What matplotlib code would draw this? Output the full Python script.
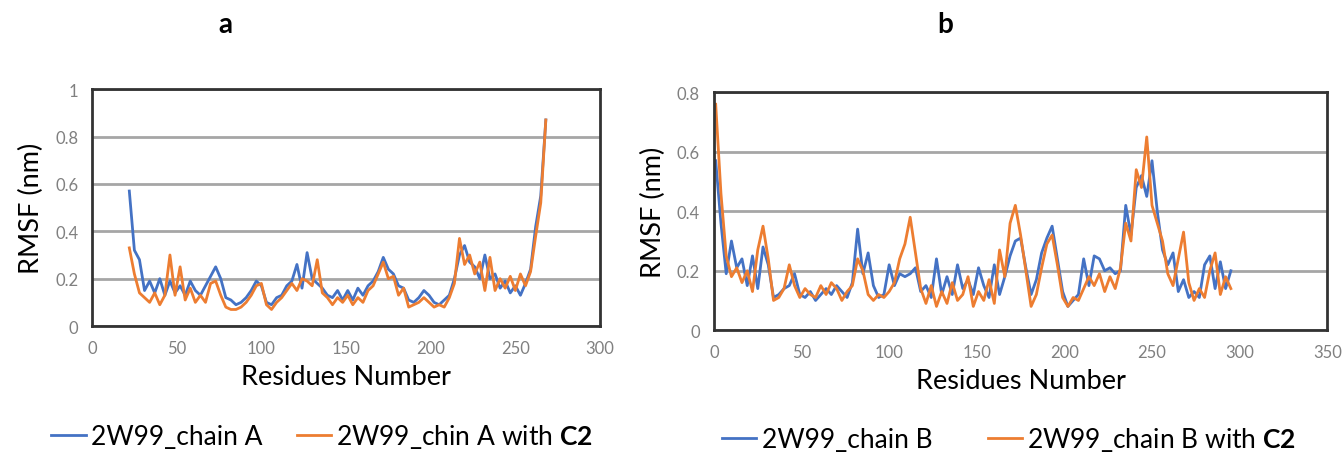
import numpy as np
import matplotlib
matplotlib.use("Agg")
import matplotlib.pyplot as plt

plt.rcParams['font.family'] = ['Lato', 'DejaVu Sans']
plt.rcParams['mathtext.fontset'] = 'custom'
plt.rcParams['mathtext.rm'] = 'Lato'
plt.rcParams['mathtext.bf'] = 'Lato:bold'

# panel a: chain A, residues 22..268 every 3
res_a = np.arange(22, 269, 3)
rmsf_a = [0.57, 0.32, 0.28, 0.15, 0.19, 0.14, 0.20, 0.13, 0.19, 0.14,
          0.17, 0.13, 0.19, 0.15, 0.13, 0.17, 0.21, 0.25, 0.20, 0.12,
          0.11, 0.09, 0.10, 0.12, 0.15, 0.19, 0.17, 0.10, 0.09, 0.12,
          0.13, 0.17, 0.19, 0.26, 0.16, 0.31, 0.20, 0.18, 0.16, 0.13,
          0.12, 0.15, 0.11, 0.15, 0.11, 0.16, 0.13, 0.17, 0.19, 0.23,
          0.29, 0.24, 0.22, 0.17, 0.16, 0.11, 0.10, 0.12, 0.15, 0.13,
          0.10, 0.09, 0.11, 0.13, 0.20, 0.30, 0.34, 0.27, 0.25, 0.20,
          0.30, 0.20, 0.22, 0.16, 0.19, 0.14, 0.17, 0.13, 0.18, 0.24,
          0.42, 0.55, 0.87]
rmsf_a_c2 = [0.33, 0.22, 0.14, 0.12, 0.10, 0.14, 0.09, 0.13, 0.30, 0.13,
             0.25, 0.11, 0.16, 0.10, 0.13, 0.10, 0.18, 0.19, 0.13, 0.08,
             0.07, 0.07, 0.08, 0.10, 0.13, 0.17, 0.18, 0.09, 0.07, 0.10,
             0.12, 0.15, 0.18, 0.15, 0.20, 0.19, 0.17, 0.28, 0.14, 0.12,
             0.09, 0.12, 0.10, 0.13, 0.09, 0.12, 0.10, 0.15, 0.17, 0.22,
             0.27, 0.20, 0.21, 0.13, 0.16, 0.08, 0.09, 0.10, 0.12, 0.10,
             0.08, 0.09, 0.08, 0.12, 0.18, 0.37, 0.26, 0.30, 0.22, 0.27,
             0.15, 0.29, 0.15, 0.20, 0.16, 0.21, 0.15, 0.22, 0.17, 0.23,
             0.38, 0.52, 0.87]

# panel b: chain B, residues 1..295 every 3
res_b = np.arange(1, 296, 3)
rmsf_b = [0.57, 0.36, 0.19, 0.30, 0.21, 0.24, 0.15, 0.25, 0.14, 0.28,
          0.22, 0.11, 0.12, 0.14, 0.15, 0.19, 0.12, 0.11, 0.13, 0.10,
          0.12, 0.14, 0.12, 0.15, 0.13, 0.11, 0.16, 0.34, 0.19, 0.26,
          0.15, 0.11, 0.12, 0.22, 0.15, 0.19, 0.18, 0.19, 0.21, 0.13,
          0.15, 0.11, 0.24, 0.12, 0.18, 0.12, 0.22, 0.14, 0.17, 0.12,
          0.21, 0.15, 0.11, 0.22, 0.12, 0.18, 0.25, 0.30, 0.31, 0.21,
          0.12, 0.17, 0.26, 0.31, 0.35, 0.24, 0.13, 0.08, 0.10, 0.12,
          0.24, 0.15, 0.25, 0.24, 0.20, 0.21, 0.19, 0.20, 0.42, 0.32,
          0.48, 0.52, 0.45, 0.57, 0.40, 0.27, 0.22, 0.26, 0.13, 0.17,
          0.11, 0.13, 0.11, 0.22, 0.25, 0.14, 0.23, 0.14, 0.20]
rmsf_b_c2 = [0.76, 0.46, 0.25, 0.18, 0.21, 0.16, 0.20, 0.13, 0.27, 0.35,
             0.24, 0.10, 0.11, 0.14, 0.22, 0.15, 0.11, 0.14, 0.12, 0.11,
             0.15, 0.12, 0.16, 0.14, 0.10, 0.13, 0.15, 0.24, 0.20, 0.12,
             0.10, 0.12, 0.11, 0.13, 0.16, 0.24, 0.29, 0.38, 0.26, 0.14,
             0.09, 0.15, 0.08, 0.13, 0.09, 0.16, 0.10, 0.12, 0.18, 0.08,
             0.13, 0.10, 0.17, 0.09, 0.27, 0.18, 0.36, 0.42, 0.32, 0.20,
             0.08, 0.12, 0.21, 0.29, 0.32, 0.22, 0.11, 0.08, 0.11, 0.10,
             0.14, 0.18, 0.15, 0.19, 0.13, 0.18, 0.14, 0.21, 0.36, 0.30,
             0.54, 0.48, 0.65, 0.42, 0.36, 0.30, 0.19, 0.15, 0.24, 0.33,
             0.16, 0.10, 0.14, 0.11, 0.20, 0.26, 0.12, 0.18, 0.14]

labels_a = ["2W99_chain A", r"2W99_chin A with $\mathbf{C2}$"]
labels_b = ["2W99_chain B", r"2W99_chain B with $\mathbf{C2}$"]

BLUE = '#4472C4'
ORANGE = '#ED7D31'


def style_axes(ax, xmax, ymax):
    ax.set_xlim(0, xmax)
    ax.set_ylim(0, ymax)
    ax.set_xticks(np.arange(0, xmax + 1, 50))
    yt = np.round(np.arange(0, ymax + 0.001, 0.2), 1)
    ax.set_yticks(yt)
    ax.set_yticklabels(['0' if v == 0 else ('1' if v == 1 else f'{v:g}') for v in yt])
    ax.tick_params(length=0, labelsize=12, labelcolor='#808080', pad=10)
    ax.yaxis.grid(True, color='#a6a6a6', lw=2)
    ax.set_axisbelow(True)
    for s in ax.spines.values():
        s.set_color('#333333')
        s.set_linewidth(2)
    ax.set_xlabel('Residues Number', fontsize=19.5, labelpad=6)
    ax.set_ylabel('RMSF (nm)', fontsize=19.5, labelpad=8)


fig = plt.figure(figsize=(13.42, 4.6), dpi=100)

ax1 = fig.add_axes([0.0686, 0.289, 0.3785, 0.515])
l1, = ax1.plot(res_a, rmsf_a, color=BLUE, lw=2)
l2, = ax1.plot(res_a, rmsf_a_c2, color=ORANGE, lw=2)
style_axes(ax1, 300, 1.0)
fig.legend([l1, l2], labels_a, loc='center', bbox_to_anchor=(0.240, 0.05),
           ncol=2, frameon=False, fontsize=19, handlelength=1.3,
           handletextpad=0.2, columnspacing=1.3, borderpad=0)

ax2 = fig.add_axes([0.532, 0.280, 0.457, 0.517])
l3, = ax2.plot(res_b, rmsf_b, color=BLUE, lw=2)
l4, = ax2.plot(res_b, rmsf_b_c2, color=ORANGE, lw=2)
style_axes(ax2, 350, 0.8)
fig.legend([l3, l4], labels_b, loc='center', bbox_to_anchor=(0.752, 0.043),
           ncol=2, frameon=False, fontsize=19, handlelength=1.3,
           handletextpad=0.2, columnspacing=2.1, borderpad=0)

fig.text(0.168, 0.946, 'a', fontsize=20, fontweight='bold', ha='center', va='center')
fig.text(0.704, 0.946, 'b', fontsize=20, fontweight='bold', ha='center', va='center')

fig.savefig('out.png', dpi=100)
